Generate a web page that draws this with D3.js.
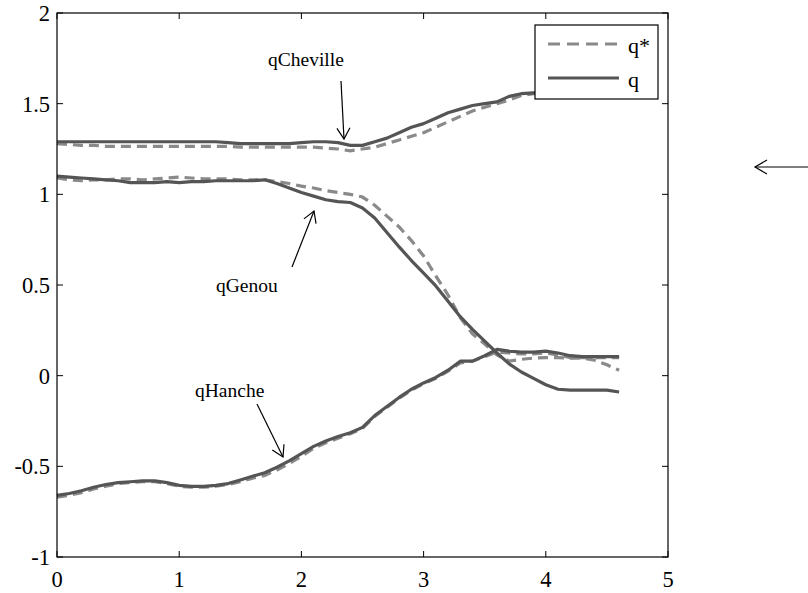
<!DOCTYPE html>
<html>
<head>
<meta charset="utf-8">
<script src="https://cdn.jsdelivr.net/npm/d3@7"></script>
<style>
  body { margin: 0; background: #fff; }
  svg { display: block; font-family: "Liberation Serif", "Times New Roman", serif; }
</style>
</head>
<body>
<svg id="chart" width="808" height="593"></svg>
<script>
// Time samples (s)
const time = [0.0, 0.1, 0.2, 0.3, 0.4, 0.5, 0.6, 0.7, 0.8, 0.9,
    1.0, 1.1, 1.2, 1.3, 1.4, 1.5, 1.6, 1.7, 1.8, 1.9,
    2.0, 2.1, 2.2, 2.3, 2.4, 2.5, 2.6, 2.7, 2.8, 2.9,
    3.0, 3.1, 3.2, 3.3, 3.4, 3.5, 3.6, 3.7, 3.8, 3.9,
    4.0, 4.1, 4.2, 4.3, 4.4, 4.5, 4.6];

// Ankle (cheville): desired q* and measured q
const chevilleRef = [1.28, 1.275, 1.27, 1.27, 1.265, 1.265, 1.265, 1.265, 1.265, 1.265,
    1.265, 1.265, 1.265, 1.265, 1.265, 1.26, 1.26, 1.26, 1.26, 1.26,
    1.26, 1.26, 1.255, 1.25, 1.24, 1.25, 1.26, 1.28, 1.30, 1.32,
    1.34, 1.37, 1.40, 1.43, 1.46, 1.48, 1.50, 1.52, 1.545, 1.555,
    1.56, 1.56, 1.56, 1.56, 1.56, 1.56, 1.56];
const chevilleMes = [1.29, 1.29, 1.29, 1.29, 1.29, 1.29, 1.29, 1.29, 1.29, 1.29,
    1.29, 1.29, 1.29, 1.29, 1.285, 1.28, 1.28, 1.28, 1.28, 1.28,
    1.285, 1.29, 1.29, 1.285, 1.27, 1.27, 1.29, 1.31, 1.34, 1.37,
    1.39, 1.42, 1.45, 1.47, 1.49, 1.50, 1.51, 1.54, 1.555, 1.56,
    1.56, 1.56, 1.56, 1.56, 1.56, 1.56, 1.56];

// Knee (genou)
const genouRef = [1.09, 1.08, 1.075, 1.08, 1.08, 1.085, 1.085, 1.08, 1.085, 1.09,
    1.095, 1.09, 1.085, 1.085, 1.085, 1.08, 1.08, 1.08, 1.07, 1.06,
    1.045, 1.035, 1.02, 1.01, 1.0, 0.985, 0.94, 0.88, 0.82, 0.745,
    0.66, 0.55, 0.445, 0.32, 0.23, 0.175, 0.115, 0.08, 0.09, 0.097,
    0.10, 0.10, 0.097, 0.097, 0.085, 0.06, 0.03];
const genouMes = [1.10, 1.095, 1.09, 1.085, 1.08, 1.075, 1.065, 1.065, 1.065, 1.07,
    1.065, 1.07, 1.07, 1.075, 1.075, 1.075, 1.075, 1.08, 1.06, 1.035,
    1.01, 0.99, 0.97, 0.96, 0.955, 0.925, 0.87, 0.79, 0.71, 0.635,
    0.565, 0.495, 0.41, 0.325, 0.255, 0.19, 0.125, 0.065, 0.02, -0.015,
    -0.05, -0.075, -0.08, -0.08, -0.08, -0.08, -0.09];

// Hip (hanche)
const hancheRef = [-0.67, -0.66, -0.645, -0.625, -0.61, -0.595, -0.59, -0.585, -0.585, -0.595,
    -0.61, -0.615, -0.615, -0.61, -0.60, -0.585, -0.565, -0.55, -0.52, -0.485,
    -0.445, -0.40, -0.37, -0.345, -0.32, -0.29, -0.225, -0.175, -0.125, -0.08,
    -0.045, -0.015, 0.025, 0.07, 0.08, 0.105, 0.13, 0.125, 0.12, 0.12,
    0.125, 0.115, 0.10, 0.10, 0.10, 0.10, 0.10];
const hancheMes = [-0.66, -0.65, -0.635, -0.615, -0.60, -0.59, -0.585, -0.58, -0.58, -0.59,
    -0.605, -0.61, -0.61, -0.605, -0.595, -0.575, -0.555, -0.535, -0.505, -0.47,
    -0.43, -0.39, -0.36, -0.335, -0.315, -0.285, -0.22, -0.17, -0.12, -0.075,
    -0.04, -0.01, 0.03, 0.08, 0.08, 0.11, 0.145, 0.135, 0.13, 0.13,
    0.135, 0.125, 0.11, 0.105, 0.105, 0.105, 0.105];

const xTicks = [0, 1, 2, 3, 4, 5];
const yTicks = [-1, -0.5, 0, 0.5, 1, 1.5, 2];
const legendLabels = ['q*', 'q'];

// Layout
const plot = {left: 57, right: 668, top: 13, bottom: 557};
const svg = d3.select('#chart');

const x = d3.scaleLinear().domain([0, 5]).range([plot.left, plot.right]);
const y = d3.scaleLinear().domain([-1, 2]).range([plot.bottom, plot.top]);

const refColor = '#8a8a8a', mesColor = '#555555';

// Curves: desired (dashed) below, measured (solid) on top
const line = d3.line()
    .x((d, i) => x(time[i]))
    .y(d => y(d));

[chevilleRef, genouRef, hancheRef].forEach(s => {
    svg.append('path')
        .attr('d', line(s))
        .attr('fill', 'none')
        .attr('stroke', refColor)
        .attr('stroke-width', 3.2)
        .attr('stroke-dasharray', '10,6');
});
[chevilleMes, genouMes, hancheMes].forEach(s => {
    svg.append('path')
        .attr('d', line(s))
        .attr('fill', 'none')
        .attr('stroke', mesColor)
        .attr('stroke-width', 3.2)
        .attr('stroke-linejoin', 'round');
});

// Box frame with inward ticks on all four sides
const tickLen = 6;
svg.append('rect')
    .attr('x', plot.left).attr('y', plot.top)
    .attr('width', plot.right - plot.left).attr('height', plot.bottom - plot.top)
    .attr('fill', 'none').attr('stroke', '#000').attr('stroke-width', 1.2);

const fontTicks = '22.5px';
xTicks.forEach(v => {
    svg.append('line').attr('x1', x(v)).attr('x2', x(v))
        .attr('y1', plot.bottom).attr('y2', plot.bottom - tickLen).attr('stroke', '#000');
    svg.append('line').attr('x1', x(v)).attr('x2', x(v))
        .attr('y1', plot.top).attr('y2', plot.top + tickLen).attr('stroke', '#000');
    svg.append('text')
        .attr('x', x(v)).attr('y', plot.bottom + 30)
        .attr('text-anchor', 'middle')
        .style('font-size', fontTicks)
        .text(v);
});
yTicks.forEach(v => {
    svg.append('line').attr('x1', plot.left).attr('x2', plot.left + tickLen)
        .attr('y1', y(v)).attr('y2', y(v)).attr('stroke', '#000');
    svg.append('line').attr('x1', plot.right).attr('x2', plot.right - tickLen)
        .attr('y1', y(v)).attr('y2', y(v)).attr('stroke', '#000');
    svg.append('text')
        .attr('x', plot.left - 7).attr('y', y(v) + 8)
        .attr('text-anchor', 'end')
        .style('font-size', fontTicks)
        .text(v);
});

// Annotations with open arrow heads
const arrow = (x1, y1, x2, y2, len, half) => {
    const g = svg.append('g').attr('stroke', '#000').attr('stroke-width', 1.2).attr('fill', 'none');
    g.append('line').attr('x1', x1).attr('y1', y1).attr('x2', x2).attr('y2', y2);
    const a = Math.atan2(y2 - y1, x2 - x1);
    const bx = x2 - len * Math.cos(a), by = y2 - len * Math.sin(a);
    const px = -Math.sin(a) * half, py = Math.cos(a) * half;
    g.append('path')
        .attr('d', `M${bx + px},${by + py}L${x2},${y2}L${bx - px},${by - py}`);
};

const note = (label, tx, ty) => {
    svg.append('text')
        .attr('x', tx).attr('y', ty)
        .style('font-size', '19.5px')
        .text(label);
};

note('qCheville', 268, 66);
arrow(341, 81, 344, 139, 11, 6.5);

note('qGenou', 216, 292);
arrow(292, 267, 314, 211, 11, 6.5);

note('qHanche', 195, 397);
arrow(257, 404, 283, 457, 11, 6.5);

// Stray arrow on the right edge
arrow(812, 167, 755, 167, 12, 7);

// Legend
const lg = svg.append('g');
lg.append('rect')
    .attr('x', 535).attr('y', 25).attr('width', 123).attr('height', 74)
    .attr('fill', '#fff').attr('stroke', '#000').attr('stroke-width', 1.2);
legendLabels.forEach((lab, i) => {
    const ly = 44 + i * 34;
    lg.append('line')
        .attr('x1', 548).attr('x2', 619).attr('y1', ly).attr('y2', ly)
        .attr('stroke', i === 0 ? refColor : mesColor)
        .attr('stroke-width', 3.2)
        .attr('stroke-dasharray', i === 0 ? '12,7' : null);
    lg.append('text')
        .attr('x', 628).attr('y', ly + 9)
        .style('font-size', '22px')
        .text(lab);
});
</script>
</body>
</html>
